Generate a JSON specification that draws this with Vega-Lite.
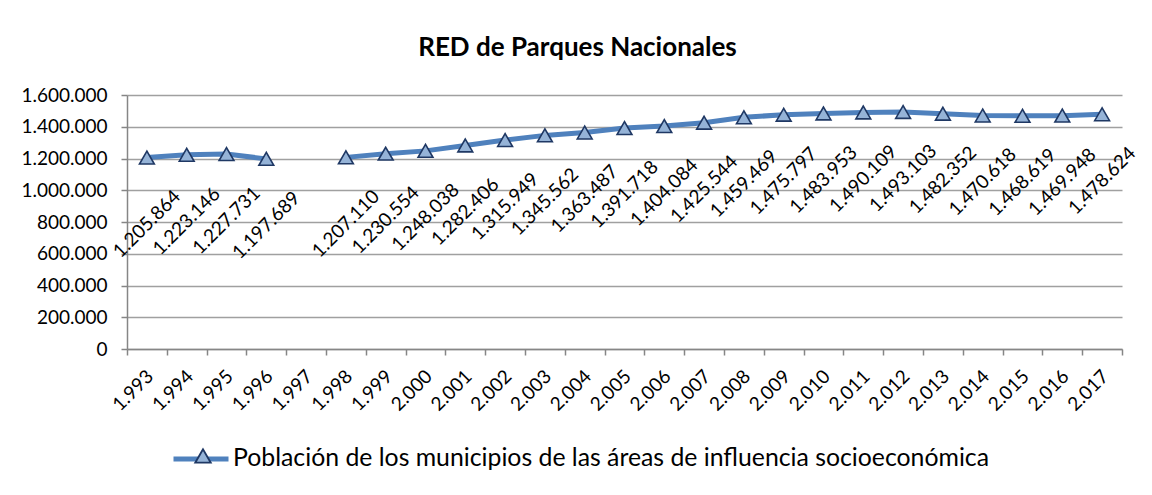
{
  "$schema": "https://vega.github.io/schema/vega-lite/v6.json",
  "width": 995,
  "height": 254,
  "autosize": {"type": "none"},
  "padding": {"left": 127, "top": 95, "right": 30, "bottom": 146},
  "background": "white",
  "config": {
    "locale": {"number": {"decimal": ",", "thousands": ".", "grouping": [3], "currency": ["", " €"]}},
    "view": {"stroke": null},
    "font": "Lato",
    "axis": {
      "labelFont": "Lato",
      "labelFontSize": 19,
      "labelColor": "#000000",
      "domainColor": "#868686",
      "domainWidth": 1.5,
      "tickColor": "#868686",
      "tickWidth": 1.5,
      "tickSize": 6,
      "gridColor": "#A0A0A0",
      "gridWidth": 1.5,
      "title": null
    }
  },
  "title": {
    "text": "RED de Parques Nacionales",
    "font": "Lato",
    "fontSize": 26,
    "fontWeight": "bold",
    "color": "#000000",
    "anchor": "middle",
    "dx": -47,
    "offset": 4,
    "baseline": "alphabetic"
  },
  "data": {
    "values": [
      {"anio": "1.993", "poblacion": 1205864, "serie": "Población de los municipios de las áreas de influencia socioeconómica"},
      {"anio": "1.994", "poblacion": 1223146, "serie": "Población de los municipios de las áreas de influencia socioeconómica"},
      {"anio": "1.995", "poblacion": 1227731, "serie": "Población de los municipios de las áreas de influencia socioeconómica"},
      {"anio": "1.996", "poblacion": 1197689, "serie": "Población de los municipios de las áreas de influencia socioeconómica"},
      {"anio": "1.997", "poblacion": null, "serie": "Población de los municipios de las áreas de influencia socioeconómica"},
      {"anio": "1.998", "poblacion": 1207110, "serie": "Población de los municipios de las áreas de influencia socioeconómica"},
      {"anio": "1.999", "poblacion": 1230554, "serie": "Población de los municipios de las áreas de influencia socioeconómica"},
      {"anio": "2.000", "poblacion": 1248038, "serie": "Población de los municipios de las áreas de influencia socioeconómica"},
      {"anio": "2.001", "poblacion": 1282406, "serie": "Población de los municipios de las áreas de influencia socioeconómica"},
      {"anio": "2.002", "poblacion": 1315949, "serie": "Población de los municipios de las áreas de influencia socioeconómica"},
      {"anio": "2.003", "poblacion": 1345562, "serie": "Población de los municipios de las áreas de influencia socioeconómica"},
      {"anio": "2.004", "poblacion": 1363487, "serie": "Población de los municipios de las áreas de influencia socioeconómica"},
      {"anio": "2.005", "poblacion": 1391718, "serie": "Población de los municipios de las áreas de influencia socioeconómica"},
      {"anio": "2.006", "poblacion": 1404084, "serie": "Población de los municipios de las áreas de influencia socioeconómica"},
      {"anio": "2.007", "poblacion": 1425544, "serie": "Población de los municipios de las áreas de influencia socioeconómica"},
      {"anio": "2.008", "poblacion": 1459469, "serie": "Población de los municipios de las áreas de influencia socioeconómica"},
      {"anio": "2.009", "poblacion": 1475797, "serie": "Población de los municipios de las áreas de influencia socioeconómica"},
      {"anio": "2.010", "poblacion": 1483953, "serie": "Población de los municipios de las áreas de influencia socioeconómica"},
      {"anio": "2.011", "poblacion": 1490109, "serie": "Población de los municipios de las áreas de influencia socioeconómica"},
      {"anio": "2.012", "poblacion": 1493103, "serie": "Población de los municipios de las áreas de influencia socioeconómica"},
      {"anio": "2.013", "poblacion": 1482352, "serie": "Población de los municipios de las áreas de influencia socioeconómica"},
      {"anio": "2.014", "poblacion": 1470618, "serie": "Población de los municipios de las áreas de influencia socioeconómica"},
      {"anio": "2.015", "poblacion": 1468619, "serie": "Población de los municipios de las áreas de influencia socioeconómica"},
      {"anio": "2.016", "poblacion": 1469948, "serie": "Población de los municipios de las áreas de influencia socioeconómica"},
      {"anio": "2.017", "poblacion": 1478624, "serie": "Población de los municipios de las áreas de influencia socioeconómica"}
    ]
  },
  "encoding": {
    "x": {
      "field": "anio",
      "type": "ordinal",
      "sort": null,
      "scale": {"type": "band", "paddingInner": 0, "paddingOuter": 0},
      "axis": {
        "labelAngle": -45,
        "labelAlign": "right",
        "labelBaseline": "middle",
        "labelPadding": 18,
        "labelOffset": 3,
        "tickBand": "extent",
        "grid": false
      }
    },
    "y": {
      "field": "poblacion",
      "type": "quantitative",
      "scale": {"domain": [0, 1600000], "nice": false},
      "axis": {
        "format": ",d",
        "values": [0, 200000, 400000, 600000, 800000, 1000000, 1200000, 1400000, 1600000],
        "grid": true,
        "labelPadding": 14
      }
    }
  },
  "layer": [
    {
      "mark": {"type": "line", "strokeWidth": 5, "invalid": "break-paths-show-domains"},
      "encoding": {
        "stroke": {
          "field": "serie",
          "type": "nominal",
          "scale": {"range": ["#4F81BD"]},
          "legend": {
            "orient": "none",
            "legendX": 44,
            "legendY": 334,
            "zindex": 0,
            "title": null,
            "symbolType": "stroke",
            "symbolSize": 3025,
            "symbolStrokeWidth": 5,
            "symbolStrokeColor": "#4F81BD",
            "labelFont": "Lato",
            "labelFontSize": 24.8,
            "labelColor": "#000000",
            "labelOffset": 2,
            "labelLimit": 1000
          }
        }
      }
    },
    {
      "mark": {"type": "point", "shape": "triangle-up", "filled": true, "size": 220, "stroke": "#1F3864", "strokeWidth": 1.6, "opacity": 1},
      "encoding": {
        "fill": {
          "datum": "marcador",
          "scale": {"range": ["#95B3D7"]},
          "legend": {
            "orient": "none",
            "legendX": 67,
            "legendY": 352,
            "zindex": 3,
            "title": null,
            "symbolType": "triangle-up",
            "symbolSize": 240,
            "symbolFillColor": "#95B3D7",
            "symbolStrokeColor": "#1F3864",
            "symbolStrokeWidth": 1.8,
            "symbolOpacity": 1,
            "labelExpr": "''",
            "encode": {
              "symbols": {
                "update": {
                  "fill": {"value": "#95B3D7"},
                  "stroke": {"value": "#1F3864"},
                  "strokeWidth": {"value": 1.8},
                  "opacity": {"value": 1},
                  "fillOpacity": {"value": 1},
                  "strokeOpacity": {"value": 1}
                }
              }
            }
          }
        }
      }
    },
    {
      "transform": [{"filter": "datum.poblacion != null"}],
      "mark": {"type": "text", "angle": -45, "align": "center", "baseline": "middle", "dx": -47, "dy": 47, "font": "Lato", "fontSize": 19, "color": "#000000"},
      "encoding": {
        "text": {"field": "poblacion", "type": "quantitative", "format": ",d"}
      }
    }
  ]
}
